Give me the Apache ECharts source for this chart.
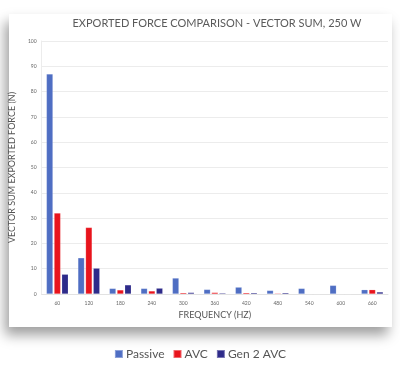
<!DOCTYPE html>
<html>
<head>
<meta charset="utf-8">
<script src="https://cdn.jsdelivr.net/npm/echarts@6/dist/echarts.min.js"></script>
<style>
  html, body { margin: 0; padding: 0; background: #ffffff; }
  #wrap { position: relative; width: 400px; height: 371px; overflow: hidden; background: #fff; }
  #card { position: absolute; left: 9px; top: 14px; width: 383px; height: 313px; background: #fff;
          box-shadow: -4px 8px 12px rgba(0,0,0,0.38); }
  #chart { position: absolute; left: 0; top: 0; width: 400px; height: 371px; }
</style>
</head>
<body>
<div id="wrap">
  <div id="card"></div>
  <div id="chart"></div>
</div>
<script>
const categories = ['60', '120', '180', '240', '300', '360', '420', '480', '540', '600', '660'];
const passive = [87, 14.3, 2.2, 2.2, 6.3, 1.8, 2.7, 1.4, 2.2, 3.4, 1.7];
const avc     = [32, 26.3, 1.6, 1.2, 0.5, 0.6, 0.5, 0.3, 0.2, 0.1, 1.7];
const gen2avc = [7.8, 10.2, 3.6, 2.3, 0.6, 0.4, 0.5, 0.5, 0.2, 0.1, 0.8];
const yTicks = [0, 10, 20, 30, 40, 50, 60, 70, 80, 90, 100];

const chart = echarts.init(document.getElementById('chart'), null, { renderer: 'canvas' });
const font = 'Lato, "Open Sans", "DejaVu Sans", sans-serif';
const mkSeries = (name, data, color) => ({
  name, type: 'bar', data, barWidth: 6.5, barGap: '18%',
  itemStyle: { color, borderColor: 'rgba(255,255,255,0.35)', borderWidth: 0.5 }
});
chart.setOption({
  backgroundColor: 'transparent',
  animation: false,
  title: {
    text: 'EXPORTED FORCE COMPARISON - VECTOR SUM, 250 W',
    left: 212, top: 13, textAlign: 'center',
    textStyle: { fontFamily: font, fontSize: 11, fontWeight: 'normal', color: '#5a5a5a' }
  },
  legend: {
    bottom: 6, left: 'center',
    itemWidth: 8, itemHeight: 8, itemGap: 8,
    icon: 'rect',
    textStyle: { fontFamily: font, fontSize: 12, color: '#555', padding: [0, 0, 0, -2] },
    data: ['Passive', 'AVC', 'Gen 2 AVC']
  },
  grid: { left: 36, right: 12, top: 41, bottom: 77, containLabel: false },
  xAxis: {
    type: 'category', data: categories,
    name: 'FREQUENCY (HZ)', nameLocation: 'middle', nameGap: 16,
    nameTextStyle: { fontFamily: font, fontSize: 9, color: '#555' },
    axisLine: { lineStyle: { color: '#e2e2e2' } },
    axisTick: { show: false },
    axisLabel: { fontFamily: font, fontSize: 5, color: '#666', margin: 7 }
  },
  yAxis: {
    type: 'value', min: yTicks[0], max: yTicks[yTicks.length - 1], interval: 10,
    name: 'VECTOR SUM EXPORTED FORCE (N)', nameLocation: 'middle', nameGap: 17,
    nameTextStyle: { fontFamily: font, fontSize: 9, color: '#555' },
    axisLine: { show: true, lineStyle: { color: '#ececec' } },
    axisTick: { show: false },
    axisLabel: { fontFamily: font, fontSize: 5, color: '#666', margin: 5 },
    splitLine: { lineStyle: { color: '#ececec' } }
  },
  series: [
    mkSeries('Passive', passive, '#4f6ec3'),
    mkSeries('AVC', avc, '#e8141c'),
    mkSeries('Gen 2 AVC', gen2avc, '#2e2b8a')
  ]
});
</script>
</body>
</html>
